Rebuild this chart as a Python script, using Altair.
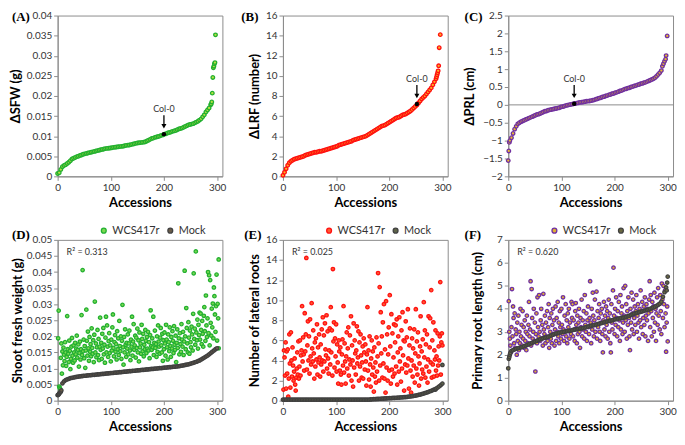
import altair as alt
import pandas as pd

FONT = "Lato"
GRID = "#8c8c8c"
TXT = "#333333"

# ---------------- shared axis values ----------------
X_TICKS = [0, 100, 200, 300]
X_DOMAIN = [0, 310]
A_TICKS = [0, 0.005, 0.01, 0.015, 0.02, 0.025, 0.03, 0.035, 0.04]
B_TICKS = [0, 2, 4, 6, 8, 10, 12, 14, 16]
C_TICKS = [-2, -1.5, -1, -0.5, 0, 0.5, 1, 1.5, 2, 2.5]
D_TICKS = [0, 0.005, 0.01, 0.015, 0.02, 0.025, 0.03, 0.035, 0.04, 0.045, 0.05]
E_TICKS = [0, 2, 4, 6, 8, 10, 12, 14, 16]
F_TICKS = [0, 1, 2, 3, 4, 5, 6, 7]

# ---------------- (A) delta shoot fresh weight, mg, accessions 0,3,...,288 ----------------
A_MG = [0.7, 0.9, 1.7, 2.4, 2.7, 2.9, 3.2, 3.5, 3.9, 4.3,
        4.5, 4.7, 4.9, 5.0, 5.2, 5.3, 5.5, 5.6, 5.7, 5.8,
        5.9, 6.0, 6.1, 6.2, 6.3, 6.4, 6.5, 6.6, 6.7, 6.8,
        6.9, 6.95, 7.0, 7.05, 7.1, 7.2, 7.25, 7.3, 7.35, 7.4,
        7.45, 7.5, 7.6, 7.7, 7.75, 7.8, 7.9, 8.0, 8.1, 8.2,
        8.3, 8.35, 8.4, 8.45, 8.5, 8.6, 8.8, 9.0, 9.2, 9.4,
        9.5, 9.7, 9.8, 9.9, 10.0, 10.2, 10.3, 10.5, 10.6, 10.8,
        10.9, 11.0, 11.2, 11.3, 11.4, 11.6, 11.8, 11.9, 12.0, 12.2,
        12.4, 12.6, 12.8, 12.9, 13.0, 13.1, 13.3, 13.5, 13.7, 14.0,
        14.3, 14.8, 15.3, 16.0, 16.5, 17.0, 17.8]
A_EX_X = [289, 290, 291, 292, 293, 294, 295, 296, 297]
A_EX_MG = [18.0, 18.5, 20.7, 24.6, 27.0, 27.4, 28.0, 28.3, 35.2]
A_COL0 = {"x": [200], "y": [0.0105], "label": ["Col-0"]}

# ---------------- (B) delta lateral root formation, accessions 0,3,...,288 ----------------
B_LRF = [0.1, 0.4, 0.75, 1.1, 1.35, 1.5, 1.6, 1.7, 1.75, 1.8,
         1.85, 1.9, 1.95, 2.0, 2.1, 2.15, 2.2, 2.25, 2.3, 2.35,
         2.4, 2.4, 2.45, 2.5, 2.5, 2.55, 2.6, 2.65, 2.7, 2.75,
         2.8, 2.85, 2.9, 2.95, 3.0, 3.1, 3.15, 3.2, 3.25, 3.3,
         3.35, 3.4, 3.45, 3.5, 3.6, 3.65, 3.7, 3.75, 3.8, 3.85,
         3.9, 3.95, 4.0, 4.1, 4.2, 4.3, 4.4, 4.5, 4.6, 4.7,
         4.8, 4.9, 5.0, 5.05, 5.1, 5.2, 5.3, 5.4, 5.5, 5.6,
         5.7, 5.8, 5.85, 5.9, 6.0, 6.1, 6.15, 6.2, 6.3, 6.4,
         6.5, 6.65, 6.8, 6.95, 7.1, 7.3, 7.5, 7.7, 7.85, 8.0,
         8.2, 8.4, 8.6, 8.8, 9.1, 9.4, 9.7]
B_EX_X = [289, 290, 291, 292, 293, 294, 296]
B_EX_Y = [9.9, 10.1, 10.3, 10.5, 11.0, 12.8, 14.1]
B_COL0 = {"x": [252], "y": [7.2], "label": ["Col-0"]}

# ---------------- (C) delta primary root length, accessions 0,3,...,288 ----------------
C_PRL = [-1.56, -1.0, -0.92, -0.8, -0.68, -0.6, -0.53, -0.5, -0.47, -0.45,
         -0.43, -0.41, -0.39, -0.37, -0.35, -0.33, -0.31, -0.29, -0.27, -0.26,
         -0.24, -0.22, -0.2, -0.18, -0.17, -0.15, -0.14, -0.13, -0.12, -0.11,
         -0.1, -0.09, -0.08, -0.06, -0.05, -0.04, -0.02, -0.01, 0.0, 0.01,
         0.02, 0.03, 0.04, 0.05, 0.06, 0.07, 0.075, 0.08, 0.09, 0.1,
         0.105, 0.11, 0.12, 0.13, 0.14, 0.16, 0.17, 0.19, 0.2, 0.22,
         0.23, 0.25, 0.26, 0.28, 0.29, 0.31, 0.32, 0.34, 0.35, 0.37,
         0.39, 0.4, 0.42, 0.44, 0.45, 0.47, 0.48, 0.5, 0.51, 0.53,
         0.54, 0.56, 0.57, 0.59, 0.6, 0.62, 0.63, 0.65, 0.67, 0.69,
         0.71, 0.73, 0.76, 0.8, 0.85, 0.9, 0.96]
C_EX_X = [1, 2, 290, 292, 294, 296, 297, 299]
C_EX_Y = [-1.29, -1.05, 1.08, 1.15, 1.22, 1.28, 1.38, 1.93]
C_COL0 = {"x": [124], "y": [0.03], "label": ["Col-0"]}

# ---------------- (D) shoot fresh weight, mg ----------------
D_WCS_MG = [19.4, 28.0, 4.4, 4.0, 3.6, 13.3, 17.8, 8.4, 15.3, 11.0,
            16.5, 14.3, 12.3, 18.2, 15.0, 10.8, 13.6, 26.3, 16.0, 14.6,
            12.0, 18.7, 15.5, 9.8, 13.0, 16.8, 19.5, 14.0, 11.8, 17.2,
            15.0, 12.5, 18.0, 14.4, 16.2, 20.2, 13.4, 15.8, 17.5, 10.6,
            14.8, 18.4, 12.8, 16.0, 26.6, 14.2, 40.6, 15.4, 19.0, 13.2,
            17.0, 10.2, 15.6, 28.3, 18.6, 14.0, 21.5, 16.3, 12.4, 19.8,
            15.2, 17.6, 13.8, 22.5, 16.4, 14.6, 18.8, 12.0, 20.5, 30.8,
            15.0, 17.8, 13.5, 16.6, 22.0, 14.2, 19.2, 12.6, 16.8, 25.8,
            15.8, 18.0, 13.0, 20.8, 16.2, 22.6, 14.4, 17.4, 11.8, 19.6,
            26.1, 15.0, 23.4, 16.8, 13.6, 18.5, 21.0, 14.8, 17.2, 12.2,
            19.0, 15.6, 22.8, 26.8, 16.4, 13.8, 18.2, 20.4, 15.2, 17.6,
            12.8, 21.6, 16.0, 19.4, 14.2, 24.8, 17.0, 15.4, 20.0, 13.0,
            18.6, 29.8, 16.6, 11.2, 19.8, 15.0, 22.2, 17.4, 13.6, 18.0,
            16.2, 20.6, 14.4, 17.8, 21.8, 15.6, 12.6, 19.0, 16.8, 26.1,
            14.0, 18.4, 23.8, 15.8, 17.2, 20.2, 13.4, 19.6, 16.4, 22.4,
            15.0, 18.8, 12.2, 21.2, 16.6, 17.8, 14.6, 23.6, 19.2, 15.4,
            20.8, 13.8, 17.4, 16.0, 22.0, 18.6, 14.8, 19.8, 16.2, 21.4,
            15.6, 18.2, 13.2, 20.4, 28.1, 17.0, 15.8, 19.4, 16.6, 26.1,
            14.2, 18.0, 21.8, 16.4, 17.6, 13.6, 20.0, 15.2, 23.4, 18.4,
            16.8, 14.6, 19.6, 22.6, 17.2, 15.0, 20.8, 12.4, 18.8, 16.0,
            21.2, 17.8, 14.0, 23.6, 19.0, 16.6, 12.8, 20.6, 18.2, 15.4,
            22.8, 17.0, 13.6, 19.8, 16.2, 21.6, 18.6, 14.8, 23.2, 17.4,
            15.8, 20.2, 12.0, 18.0, 22.2, 16.4, 36.5, 19.4, 14.4, 21.0,
            17.6, 15.2, 23.8, 19.0, 16.8, 21.4, 14.2, 18.4, 40.4, 20.0,
            16.0, 28.8, 22.6, 17.8, 15.0, 24.4, 19.6, 14.6, 21.8, 18.2,
            16.6, 23.0, 20.6, 15.6, 27.0, 39.6, 19.2, 22.4, 17.4, 46.4,
            21.2, 18.8, 25.2, 16.2, 23.6, 20.4, 27.4, 19.0, 27.1, 22.0,
            17.6, 24.8, 20.8, 16.8, 26.4, 29.1, 21.6, 18.6, 32.7, 23.4,
            19.8, 25.6, 40.0, 21.0, 39.0, 17.2, 37.5, 24.2, 20.2, 28.6,
            22.8, 30.2, 19.4, 35.2, 32.5, 26.8, 21.4, 29.4, 39.2, 18.7]
D_WCS_EX_X = [301, 302, 303, 303]
D_WCS_EX_MG = [30.1, 25.6, 43.9, 16.3]
# mock, accessions 0,3,...,300
D_MOCK_MG = [1.7, 2.2, 2.8, 5.4, 6.0, 6.4, 6.6, 6.8, 7.0, 7.1,
             7.2, 7.3, 7.4, 7.5, 7.55, 7.6, 7.7, 7.75, 7.8, 7.85,
             7.9, 7.95, 8.0, 8.05, 8.1, 8.15, 8.2, 8.25, 8.3, 8.35,
             8.4, 8.45, 8.5, 8.55, 8.6, 8.65, 8.7, 8.75, 8.8, 8.85,
             8.9, 8.95, 9.0, 9.05, 9.1, 9.15, 9.2, 9.25, 9.3, 9.35,
             9.4, 9.45, 9.5, 9.55, 9.6, 9.65, 9.7, 9.75, 9.8, 9.85,
             9.9, 9.95, 10.0, 10.05, 10.1, 10.15, 10.2, 10.25, 10.3, 10.35,
             10.4, 10.45, 10.5, 10.55, 10.6, 10.65, 10.7, 10.8, 10.9, 11.0,
             11.1, 11.2, 11.3, 11.45, 11.6, 11.75, 11.9, 12.1, 12.3, 12.5,
             12.8, 13.1, 13.4, 13.7, 14.0, 14.4, 14.8, 15.2, 15.6, 16.0,
             16.3]
D_MOCK_EX_X = [1, 2, 4, 5, 7]
D_MOCK_EX_MG = [1.8, 2.0, 2.5, 2.6, 3.2]
D_R2 = ["R² = 0.313"]

# ---------------- (E) number of lateral roots ----------------
E_WCS = [1.1, 5.0, 4.3, 2.5, 5.8, 1.2, 4.9, 2.7, 5.1, 0.4,
         2.2, 6.6, 3.7, 1.3, 6.8, 4.0, 2.4, 5.3, 3.5, 2.0,
         2.9, 4.2, 1.6, 1.0, 2.3, 3.2, 4.8, 2.6, 5.9, 2.2,
         3.4, 6.0, 2.5, 4.5, 5.0, 9.4, 3.9, 6.3, 4.6, 3.0,
         8.7, 4.9, 6.6, 14.2, 3.1, 5.5, 7.9, 4.0, 6.4, 2.7,
         8.1, 4.4, 3.6, 9.7, 5.2, 3.9, 7.0, 4.7, 2.2, 5.8,
         3.4, 6.2, 4.1, 7.6, 2.6, 5.3, 3.8, 6.6, 4.3, 2.4,
         5.6, 3.6, 7.1, 4.0, 8.3, 2.9, 6.5, 3.9, 7.7, 5.1,
         4.5, 8.5, 3.2, 6.9, 4.2, 2.7, 5.0, 7.2, 3.6, 9.3,
         4.8, 7.0, 2.5, 13.1, 5.9, 7.8, 3.3, 6.2, 4.4, 7.6,
         2.9, 5.6, 3.8, 1.7, 6.0, 4.9, 3.0, 5.3, 2.6, 1.6,
         4.6, 6.1, 3.5, 9.4, 2.8, 5.7, 3.9, 1.7, 4.4, 6.8,
         3.2, 5.2, 7.3, 2.5, 4.1, 6.5, 3.6, 8.4, 2.0, 5.5,
         4.0, 1.4, 7.7, 3.3, 6.0, 4.7, 2.6, 5.0, 7.4, 3.7,
         4.3, 6.9, 2.0, 5.8, 3.4, 6.6, 4.5, 2.3, 3.8, 5.4,
         2.2, 6.2, 4.8, 3.1, 5.6, 3.9, 1.5, 4.6, 9.3, 3.0,
         5.0, 2.1, 6.4, 3.6, 1.4, 4.2, 6.0, 2.6, 4.9, 3.3,
         0.9, 5.3, 2.4, 3.8, 1.8, 6.3, 2.9, 4.4, 12.7, 5.7,
         2.0, 11.3, 3.5, 8.8, 4.7, 6.4, 2.3, 7.8, 3.7, 9.6,
         2.2, 5.1, 0.8, 9.9, 3.3, 6.6, 2.0, 4.6, 7.3, 3.0,
         10.5, 5.4, 1.7, 8.6, 3.1, 6.7, 2.4, 4.3, 7.6, 2.7,
         5.8, 7.5, 3.4, 8.1, 1.6, 4.8, 6.4, 2.9, 8.3, 3.9,
         5.2, 1.9, 7.0, 3.2, 8.8, 4.5, 6.0, 1.0, 5.9, 3.6,
         7.9, 2.8, 6.3, 3.5, 9.1, 4.2, 1.2, 5.5, 7.2, 3.0,
         0.8, 4.0, 6.2, 2.4, 5.2, 3.5, 7.1, 1.8, 4.7, 9.1,
         3.2, 5.9, 2.6, 6.8, 4.4, 1.5, 3.7, 5.4, 8.4, 2.2,
         4.9, 3.1, 6.1, 2.7, 9.8, 4.3, 7.0, 2.3, 5.6, 3.4,
         6.6, 1.8, 4.1, 8.4, 2.9, 5.3, 8.2, 3.8, 11.0, 2.3,
         6.0, 3.6, 7.8, 2.4, 5.0, 4.1, 7.0, 3.0, 4.4, 2.5,
         6.7, 3.5, 5.4, 4.0, 6.4, 11.8, 2.6, 5.8, 6.7, 5.5]
# mock, accessions 0,3,...,300
E_MOCK = [0.1, 0.1, 0.1, 0.1, 0.1, 0.1, 0.1, 0.1, 0.1, 0.1,
          0.1, 0.1, 0.1, 0.1, 0.1, 0.1, 0.1, 0.1, 0.1, 0.1,
          0.1, 0.1, 0.1, 0.1, 0.1, 0.1, 0.1, 0.1, 0.1, 0.1,
          0.1, 0.1, 0.1, 0.1, 0.1, 0.1, 0.1, 0.1, 0.1, 0.1,
          0.1, 0.1, 0.1, 0.1, 0.1, 0.1, 0.1, 0.1, 0.1, 0.1,
          0.1, 0.1, 0.1, 0.1, 0.1,
          0.12, 0.14, 0.15, 0.16, 0.17, 0.18, 0.19, 0.2, 0.21, 0.22,
          0.23, 0.24, 0.25, 0.26, 0.27, 0.28, 0.29, 0.3, 0.31, 0.32,
          0.33, 0.35, 0.36, 0.38, 0.4, 0.42, 0.44, 0.47, 0.5, 0.53,
          0.57, 0.61, 0.65, 0.7, 0.75, 0.8, 0.86, 0.92, 0.98, 1.05,
          1.12, 1.2, 1.3, 1.42, 1.55, 1.7]
E_MOCK_EX_X = [287, 300]
E_MOCK_EX_Y = [1.1, 3.55]
E_R2 = ["R² = 0.025"]

# ---------------- (F) primary root length, cm ----------------
F_WCS = [4.33, 3.0, 2.7, 2.4, 2.1, 3.2, 4.86, 2.8, 4.1, 3.6,
         2.5, 3.8, 2.3, 3.1, 2.9, 2.0, 3.4, 2.6, 3.7, 2.2,
         3.0, 2.5, 4.0, 2.8, 3.3, 2.4, 3.9, 2.7, 3.2, 2.3,
         3.5, 2.6, 3.0, 2.2, 3.7, 2.9, 2.5, 3.3, 4.3, 2.8,
         3.1, 5.2, 2.4, 4.86, 3.6, 2.7, 3.0, 4.0, 2.6, 3.4,
         1.27, 2.9, 3.8, 2.5, 4.5, 3.2, 2.8, 4.6, 3.0, 2.6,
         3.5, 4.0, 2.7, 3.3, 2.4, 4.65, 3.1, 2.9, 3.7, 2.5,
         3.4, 2.8, 3.9, 2.6, 3.2, 4.2, 2.3, 3.6, 3.0, 2.7,
         3.8, 2.5, 3.3, 4.0, 2.9, 3.5, 2.4, 3.1, 4.1, 2.6,
         3.6, 3.0, 4.3, 2.8, 3.4, 2.5, 3.9, 3.2, 2.7, 4.0,
         3.3, 2.9, 4.5, 3.1, 2.6, 3.7, 3.0, 4.2, 2.8, 3.5,
         2.5, 3.8, 3.2, 4.0, 2.7, 3.4, 3.0, 2.9, 4.3, 3.6,
         4.2, 2.8, 3.5, 3.1, 2.6, 3.9, 4.25, 3.3, 2.5, 3.7,
         2.9, 3.4, 4.0, 3.0, 2.3, 3.6, 3.2, 4.4, 2.8, 3.5,
         3.1, 3.9, 2.7, 4.6, 3.3, 3.0, 3.8, 2.6, 3.5, 4.1,
         3.2, 2.9, 3.6, 5.2, 3.4, 2.5, 4.0, 3.1, 4.7, 3.7,
         2.8, 3.5, 4.4, 3.0, 3.3, 4.75, 2.7, 3.9, 3.2, 3.6,
         4.2, 3.0, 2.6, 3.8, 3.4, 4.0, 2.9, 2.1, 3.5, 4.3,
         3.1, 3.7, 2.8, 4.1, 3.3, 3.9, 2.7, 3.6, 4.4, 3.0,
         3.8, 2.5, 2.1, 4.2, 3.4, 3.1, 4.8, 5.79, 3.7, 2.9,
         4.0, 3.3, 4.5, 3.6, 2.8, 3.9, 3.2, 4.3, 3.5, 2.6,
         4.6, 3.1, 3.8, 4.1, 2.9, 3.4, 4.9, 3.7, 3.0, 5.0,
         3.5, 4.2, 2.7, 3.9, 3.3, 4.5, 3.6, 2.8, 2.2, 4.0,
         3.4, 4.7, 3.1, 3.8, 4.4, 2.9, 3.6, 4.1, 3.3, 3.9,
         4.6, 3.0, 3.7, 4.2, 3.4, 2.7, 4.0, 3.5, 4.8, 3.2,
         3.9, 4.3, 2.9, 3.6, 4.1, 3.3, 4.5, 2.8, 3.7, 4.2,
         3.5, 4.0, 2.6, 3.8, 4.4, 5.2, 3.2, 4.6, 3.9, 2.8,
         4.3, 3.6, 4.1, 3.0, 4.7, 3.4, 4.0, 2.6, 3.8, 4.5,
         3.3, 4.9, 3.7, 4.2, 3.1, 4.6, 3.9, 2.9, 5.1, 4.4,
         3.6, 5.0, 4.2, 3.2, 4.8, 3.8, 2.13, 3.4, 4.1, 2.58]
# mock, accessions 0,3,...,297
F_MOCK = [1.41, 2.0, 2.17, 2.2, 2.23, 2.26, 2.28, 2.3, 2.32, 2.34,
          2.37, 2.4, 2.43, 2.46, 2.49, 2.52, 2.55, 2.58, 2.61, 2.64,
          2.67, 2.7, 2.72, 2.74, 2.76, 2.78, 2.81, 2.84, 2.87, 2.9,
          2.92, 2.94, 2.96, 2.97, 2.99, 3.0, 3.02, 3.03, 3.04, 3.05,
          3.07, 3.08, 3.1, 3.11, 3.13, 3.14, 3.15, 3.16, 3.18, 3.2,
          3.22, 3.24, 3.26, 3.28, 3.29, 3.31, 3.33, 3.35, 3.37, 3.39,
          3.41, 3.43, 3.45, 3.47, 3.48, 3.5, 3.52, 3.54, 3.55, 3.57,
          3.58, 3.6, 3.61, 3.63, 3.65, 3.68, 3.7, 3.73, 3.76, 3.79,
          3.81, 3.83, 3.85, 3.87, 3.89, 3.91, 3.93, 3.95, 3.97, 4.0,
          4.03, 4.06, 4.09, 4.13, 4.17, 4.22, 4.31, 4.52, 4.72, 4.93]
F_MOCK_EX_X = [1, 2, 4, 298, 299, 300]
F_MOCK_EX_Y = [1.82, 1.9, 2.08, 4.8, 5.14, 5.4]
F_R2 = ["R² = 0.620"]

GROUPS = ["WCS417r", "Mock"]

W, H = 166, 162


def curve(main, ex_x, ex_y, k=1.0):
    xs = [3 * i for i in range(len(main))] + list(ex_x)
    ys = [v * k for v in list(main) + list(ex_y)]
    return pd.DataFrame({"x": xs, "y": ys}).sort_values("x", kind="stable")


def scatter(vals, ex_x=(), ex_y=(), k=1.0):
    xs = list(range(1, len(vals) + 1)) + list(ex_x)
    ys = [v * k for v in list(vals) + list(ex_y)]
    return pd.DataFrame({"x": xs, "y": ys})


AX = dict(labelFont=FONT, labelFontSize=10, labelColor=TXT, labelPadding=2,
          labelFlush=False, labelOverlap=False, tickSize=4, tickColor=GRID,
          tickWidth=1, domainColor=GRID, domainWidth=1, grid=False,
          titleFont=FONT, titleFontSize=13, titleFontWeight="bold",
          titleColor="#000000")


def xenc():
    return alt.X("x:Q", scale=alt.Scale(domain=X_DOMAIN, nice=False, zero=False),
                 axis=alt.Axis(values=X_TICKS, title="Accessions", titlePadding=4, **AX))


def yenc(title, dom, ticks, tpad):
    return alt.Y("y:Q", scale=alt.Scale(domain=dom, nice=False, zero=False),
                 axis=alt.Axis(values=ticks, title=title, titlePadding=tpad,
                               format="~g", **AX))


def letter(t, dx, dy):
    return alt.Chart(pd.DataFrame({"t": [t]})).mark_text(
        font="Liberation Serif", fontSize=13, fontWeight="bold", align="left",
        baseline="middle", color="#000000").encode(
        x=alt.value(dx), y=alt.value(dy), text="t:N")


def top_panel(df, col0, title, dom, ticks, tpad, stroke, fill, let, ldx, zero=False):
    X = xenc()
    Y = yenc(title, dom, ticks, tpad)
    layers = []
    if zero:
        layers.append(alt.Chart(pd.DataFrame({"y": [0.0]})).mark_rule(
            color=GRID, strokeWidth=1).encode(y=Y))
    layers.append(alt.Chart(df).mark_circle(
        size=13, fill=fill, stroke=stroke, strokeWidth=1.3, opacity=1).encode(x=X, y=Y))
    cz = alt.Chart(pd.DataFrame(col0))
    layers.append(cz.mark_circle(size=20, color="#000000", opacity=1).encode(x=X, y=Y))
    layers.append(cz.mark_rule(color="#000000", strokeWidth=1.3, yOffset=-19,
                               y2Offset=-10).encode(x=X, y=Y, y2=alt.Y2("y")))
    layers.append(cz.mark_point(shape="triangle-down", filled=True, color="#000000",
                                size=26, yOffset=-8, opacity=1).encode(x=X, y=Y))
    layers.append(cz.mark_text(font=FONT, fontSize=9, color=TXT, dy=-25).encode(
        x=X, y=Y, text="label:N"))
    layers.append(letter(let, ldx, 1))
    return alt.layer(*layers).properties(width=W, height=H)


def bottom_panel(wcs, mock, title, dom, ticks, tpad, strokes, fills, let, ldx, r2):
    df = pd.concat([wcs.assign(g=GROUPS[0]), mock.assign(g=GROUPS[1])],
                   ignore_index=True)
    leg = alt.Legend(orient="none", legendX=41, legendY=-15, direction="horizontal",
                     title=None, labelFont=FONT, labelFontSize=11, labelColor=TXT,
                     symbolType="circle", symbolSize=24, symbolStrokeWidth=1.3,
                     labelOffset=3, columnPadding=5, padding=0)
    pts = alt.Chart(df).mark_circle(size=12, strokeWidth=1.3, opacity=1).encode(
        x=xenc(), y=yenc(title, dom, ticks, tpad),
        fill=alt.Fill("g:N", scale=alt.Scale(domain=GROUPS, range=fills), legend=leg),
        stroke=alt.Stroke("g:N", scale=alt.Scale(domain=GROUPS, range=strokes), legend=leg))
    r2t = alt.Chart(pd.DataFrame({"t": r2})).mark_text(
        font=FONT, fontSize=9, color=TXT, align="left", baseline="middle").encode(
        x=alt.value(9), y=alt.value(12), text="t:N")
    return alt.layer(pts, r2t, letter(let, ldx, -4.5)).properties(width=W, height=H)


pA = top_panel(curve(A_MG, A_EX_X, A_EX_MG, 0.001), A_COL0, "ΔSFW (g)", [0, 0.04],
               A_TICKS, 4, "#22b030", "#b8e040", "(A)", -46)
pB = top_panel(curve(B_LRF, B_EX_X, B_EX_Y), B_COL0, "ΔLRF (number)", [0, 16],
               B_TICKS, 4, "#ff1010", "#ffb020", "(B)", -42)
pC = top_panel(curve(C_PRL, C_EX_X, C_EX_Y), C_COL0, "ΔPRL (cm)", [-2, 2.5],
               C_TICKS, 6, "#7030a0", "#e8b830", "(C)", -44, zero=True)

pD = bottom_panel(scatter(D_WCS_MG, D_WCS_EX_X, D_WCS_EX_MG, 0.001),
                  curve(D_MOCK_MG, D_MOCK_EX_X, D_MOCK_EX_MG, 0.001),
                  "Shoot fresh weight (g)", [0, 0.05], D_TICKS, 2,
                  ["#22b030", "#404040"], ["#7cd850", "#6a5c48"], "(D)", -46, D_R2)
pE = bottom_panel(scatter(E_WCS), curve(E_MOCK, E_MOCK_EX_X, E_MOCK_EX_Y),
                  "Number of lateral roots", [0, 16], E_TICKS, 4,
                  ["#ff1010", "#404040"], ["#ff5a30", "#5e6448"], "(E)", -39, E_R2)
pF = bottom_panel(scatter(F_WCS), curve(F_MOCK, F_MOCK_EX_X, F_MOCK_EX_Y),
                  "Primary root length (cm)", [0, 7], F_TICKS, 12,
                  ["#7030a0", "#404040"], ["#e0b030", "#6a6840"], "(F)", -44, F_R2)

chart = alt.concat(pA, pB, pC, pD, pE, pF, columns=3,
                   spacing={"row": 64, "column": 61}, bounds="flush").resolve_scale(
    fill="independent", stroke="independent").resolve_legend(
    fill="independent", stroke="independent").properties(
    padding=0).configure(font=FONT).configure_view(stroke=GRID, strokeWidth=1)

chart.save("out.html", embed_options={"renderer": "svg", "actions": False})
